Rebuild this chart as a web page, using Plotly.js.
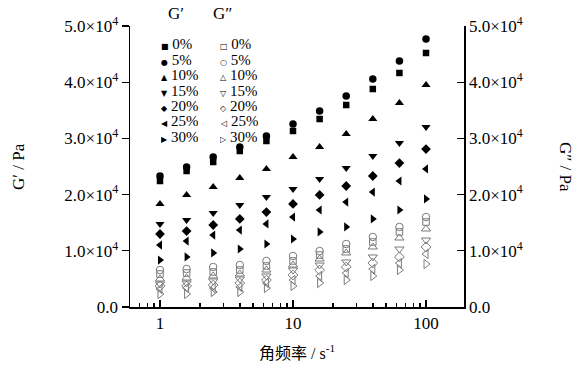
<!DOCTYPE html>
<html>
<head>
<meta charset="utf-8">
<script src="https://cdn.plot.ly/plotly-3.0.1.min.js"></script>
<style>html,body{margin:0;padding:0;background:#fff;}#chart{width:582px;height:365px;}</style>
</head>
<body>
<div id="chart"></div>
<script>
// Angular frequency (s^-1)
const freq = [1, 1.585, 2.512, 3.981, 6.31, 10, 15.85, 25.12, 39.81, 63.1, 100];
const seriesLabels = ["0%", "5%", "10%", "15%", "20%", "25%", "30%"];

// Storage modulus G' (Pa)
const gp0  = [22420, 24200, 25800, 27760, 29540, 31320, 33450, 35940, 38790, 41640, 45200];
const gp5  = [23310, 24910, 26690, 28470, 30430, 32560, 34880, 37550, 40570, 43770, 47690];
const gp10 = [18330, 19930, 21350, 22950, 24560, 26690, 28470, 30780, 33450, 36300, 39500];
const gp15 = [14770, 15480, 16730, 18150, 19570, 21000, 22780, 24730, 26870, 29180, 32030];
const gp20 = [12990, 13520, 14590, 15660, 16900, 18330, 19930, 21530, 23310, 25620, 28110];
const gp25 = [11030, 11740, 12810, 13700, 14770, 16010, 17260, 18680, 20460, 22420, 24560];
const gp30 = [8360, 8900, 9610, 10320, 11210, 12100, 13350, 14240, 15660, 17260, 19220];

// Loss modulus G'' (Pa)
const gpp0  = [5870, 6050, 6230, 6580, 7300, 8190, 9250, 10320, 11570, 13350, 15120];
const gpp5  = [6580, 6760, 7120, 7470, 8190, 9070, 9960, 11210, 12460, 14240, 16010];
const gpp10 = [4980, 5160, 5520, 5870, 6580, 7470, 8540, 9610, 10680, 12280, 13880];
const gpp15 = [4090, 4270, 4630, 4980, 5520, 6580, 7470, 8010, 8900, 10320, 11920];
const gpp20 = [3740, 3740, 3910, 4270, 4800, 5690, 6580, 7120, 7830, 8900, 10680];
const gpp25 = [3200, 3380, 3380, 3560, 4270, 4800, 5520, 6050, 6760, 7830, 9430];
const gpp30 = [2310, 2310, 2670, 2670, 3380, 3740, 4270, 4800, 5520, 6580, 7650];

const yTickVals = [0, 10000, 20000, 30000, 40000, 50000];
const yTickText = ["0.0", "1.0×10<sup>4</sup>", "2.0×10<sup>4</sup>", "3.0×10<sup>4</sup>", "4.0×10<sup>4</sup>", "5.0×10<sup>4</sup>"];
const xTickVals = [1, 10, 100];
const xTickText = ["1", "10", "100"];
const xMinorVals = [0.6, 0.7, 0.8, 0.9, 2, 3, 4, 5, 6, 7, 8, 9, 20, 30, 40, 50, 60, 70, 80, 90];

const gpSeries = [gp0, gp5, gp10, gp15, gp20, gp25, gp30];
const gppSeries = [gpp0, gpp5, gpp10, gpp15, gpp20, gpp25, gpp30];
const symbols = ["square", "circle", "triangle-up", "triangle-down", "diamond", "triangle-left", "triangle-right"];
const sizes = [6.5, 7.5, 8, 8, 7.5, 8, 8];
const filledGlyphs = ["■", "●", "▲", "▼", "◆", "◀", "▶"];
const openGlyphs = ["□", "○", "△", "▽", "◇", "◁", "▷"];

const SERIF = "'Liberation Serif', 'Times New Roman', serif";
const CJK = "'Liberation Serif', 'Noto Sans CJK SC', serif";
const openColor = "#7a7a7a";

const traces = [];
gpSeries.forEach((ys, i) => {
  traces.push({
    x: freq, y: ys, type: "scatter", mode: "markers", name: "G' " + seriesLabels[i],
    marker: {symbol: symbols[i], size: sizes[i], color: "#000"},
    showlegend: false, xaxis: "x", yaxis: "y"
  });
});
gppSeries.forEach((ys, i) => {
  traces.push({
    x: freq, y: ys, type: "scatter", mode: "markers", name: "G'' " + seriesLabels[i],
    marker: {symbol: symbols[i] + "-open", size: sizes[i], color: openColor, line: {width: 1, color: openColor}},
    showlegend: false, xaxis: "x", yaxis: "y2"
  });
});

// plot box in pixels
const L = 130, R = 464, T = 26, B = 307;
const W = 582, H = 365;
const px = v => (v - L) / (R - L);
const py = v => (B - v) / (B - T);

const glyphSpan = g => '<span style="font-family:DejaVu Sans;font-size:8px">' + g + '</span>';

const annotations = [];
// legend headers
annotations.push({xref: "paper", yref: "paper", x: px(176), y: py(14), text: "G′", showarrow: false,
  font: {family: SERIF, size: 17, color: "#000"}, xanchor: "center", yanchor: "middle", borderpad: 0});
annotations.push({xref: "paper", yref: "paper", x: px(222), y: py(14), text: "G″", showarrow: false,
  font: {family: SERIF, size: 17, color: "#000"}, xanchor: "center", yanchor: "middle", borderpad: 0});
seriesLabels.forEach((lab, i) => {
  const yy = py(44 + 15.5 * i);
  annotations.push({xref: "paper", yref: "paper", x: px(160), y: yy, text: glyphSpan(filledGlyphs[i]) + " " + lab,
    showarrow: false, font: {family: SERIF, size: 15, color: "#000"}, xanchor: "left", yanchor: "middle",
    align: "left", borderpad: 0, height: 14});
  annotations.push({xref: "paper", yref: "paper", x: px(219), y: yy, text: glyphSpan(openGlyphs[i]) + " " + lab,
    showarrow: false, font: {family: SERIF, size: 15, color: "#000"}, xanchor: "left", yanchor: "middle",
    align: "left", borderpad: 0, height: 14});
});
// axis titles
annotations.push({xref: "paper", yref: "paper", x: px(18), y: py(167), text: "G′ / Pa", textangle: -90, showarrow: false,
  font: {family: SERIF, size: 17, color: "#000"}, xanchor: "center", yanchor: "middle"});
annotations.push({xref: "paper", yref: "paper", x: px(566), y: py(167), text: "G″ / Pa", textangle: 90, showarrow: false,
  font: {family: SERIF, size: 17, color: "#000"}, xanchor: "center", yanchor: "middle"});
annotations.push({xref: "paper", yref: "paper", x: px(297), y: py(352), text: "角频率 / s<sup>-1</sup>", showarrow: false,
  font: {family: CJK, size: 16, color: "#000"}, xanchor: "center", yanchor: "middle"});

const layout = {
  width: W, height: H,
  margin: {l: L, r: W - R, t: T, b: H - B, pad: 0},
  paper_bgcolor: "#fff", plot_bgcolor: "#fff",
  showlegend: false,
  font: {family: SERIF, size: 16, color: "#000"},
  xaxis: {
    type: "log", range: [Math.log10(0.595), Math.log10(193)],
    tickmode: "array", tickvals: xTickVals, ticktext: xTickText,
    ticks: "inside", ticklen: 7, tickwidth: 1.3, tickcolor: "#000",
    minor: {tickmode: "array", tickvals: xMinorVals, ticks: "inside", ticklen: 4, tickwidth: 1.2, tickcolor: "#000", showgrid: false},
    showline: true, linecolor: "#000", linewidth: 1.5, mirror: false,
    showgrid: false, zeroline: false,
    tickfont: {family: SERIF, size: 17, color: "#000"}
  },
  yaxis: {
    range: [0, 50000], tickmode: "array", tickvals: yTickVals, ticktext: yTickText,
    ticks: "outside", ticklen: 7, tickwidth: 1.3, tickcolor: "#000",
    showline: true, linecolor: "#000", linewidth: 1.5,
    showgrid: false, zeroline: false,
    tickfont: {family: SERIF, size: 17, color: "#000"}
  },
  yaxis2: {
    range: [0, 50000], tickmode: "array", tickvals: yTickVals, ticktext: yTickText,
    overlaying: "y", side: "right",
    ticks: "inside", ticklen: 7, tickwidth: 1.3, tickcolor: "#000",
    showline: true, linecolor: "#000", linewidth: 1.5,
    showgrid: false, zeroline: false,
    tickfont: {family: SERIF, size: 17, color: "#000"}
  },
  annotations: annotations
};

Plotly.newPlot("chart", traces, layout, {displayModeBar: false, staticPlot: true});
</script>
</body>
</html>
